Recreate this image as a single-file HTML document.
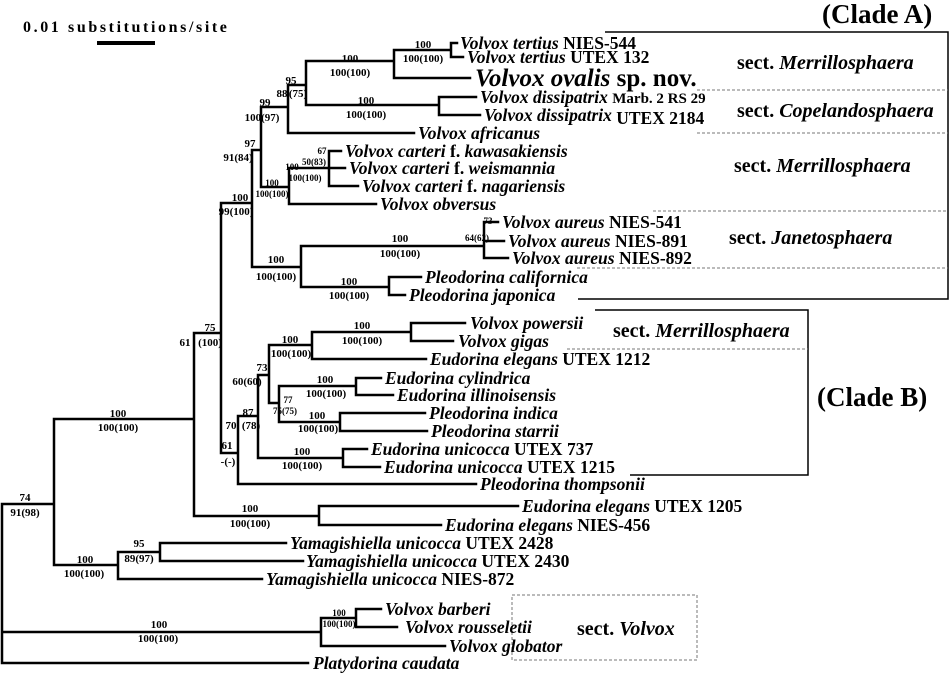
<!DOCTYPE html>
<html><head><meta charset="utf-8"><style>
html,body{margin:0;padding:0;background:#fff;}
svg{display:block;}
.t{font-family:"Liberation Serif",serif;font-weight:bold;font-style:italic;font-size:17.5px;}
.u{font-style:normal;}
.s{font-family:"Liberation Serif",serif;font-weight:bold;font-size:11px;text-anchor:middle;}
.ss{font-family:"Liberation Serif",serif;font-weight:bold;font-size:9px;text-anchor:middle;}
.sec{font-family:"Liberation Serif",serif;font-weight:bold;font-size:20px;}
.cl{font-family:"Liberation Serif",serif;font-weight:bold;font-size:27px;}
</style></head><body>
<svg width="950" height="674" viewBox="0 0 950 674" xmlns="http://www.w3.org/2000/svg">
<g fill="none" stroke="#000" stroke-width="2.5" stroke-linecap="square">
<path d="M2,504V663M2,504H54M54,419V565M54,419H194M194,333V516M194,333H221M221,203V453M221,203H252M252,150V267
M252,150H261M261,107V187M261,107H288M288,85V133M288,85H306M306,61V105M306,61H394M394,50V78M394,50H451M451,43V57M451,43H457M451,57H463M394,78H470
M306,105H439M439,97V115M439,97H476M439,115H480M288,133H414
M261,187H289M289,168V204M289,168H329M329,151V186M329,151H341M329,168H345M329,186H358M289,204H376
M252,267H301M301,246V287M301,246H484M484,222V258M484,222H498M484,241H504M484,258H508M301,287H389M389,277V295M389,277H421M389,295H405
M221,453H238M238,416V484M238,416H258M258,375V458M258,375H269M269,345V403M269,345H312M312,332V359M312,332H411M411,323V341M411,323H465M411,341H453M312,359H426
M269,403H279M279,386V422M279,386H356M356,378V395M356,378H381M356,395H393M279,422H340M340,413V431M340,413H425M340,431H427
M258,458H343M343,449V467M343,449H367M343,467H380M238,484H476
M194,516H319M319,506V525M319,506H518M319,525H441
M54,565H118M118,552V579M118,552H160M160,543V561M160,543H286M160,561H303M118,579H262
M2,632H321M321,618V646M321,618H356M356,609V627M356,609H381M356,627H397M321,646H445M2,663H308"/>
</g>
<!-- scale -->
<text x="23" y="32" font-family="Liberation Serif,serif" font-weight="bold" font-size="16" letter-spacing="2.6">0.01 substitutions/site</text>
<rect x="97" y="41" width="58" height="4" fill="#000"/>
<!-- boxes -->
<g fill="none" stroke="#000" stroke-width="1.5">
<path d="M605,32H948V299H578"/>
<path d="M595,310H808V475H630"/>
</g>
<g fill="none" stroke="#777" stroke-width="1" stroke-dasharray="3,2">
<path d="M697,90H948M697,133H948M653,211H948M577,268H948M567,349H808"/>
<path d="M512,595H697V660H512Z"/>
</g>
<!-- taxa -->
<g class="t">
<text x="460" y="49">Volvox tertius <tspan class="u">NIES-544</tspan></text>
<text x="467" y="63">Volvox tertius <tspan class="u">UTEX 132</tspan></text>
<text x="475" y="86" font-size="25">Volvox ovalis <tspan class="u">sp. nov.</tspan></text>
<text x="480" y="103">Volvox dissipatrix <tspan class="u" font-size="15">Marb. 2 RS 29</tspan></text>
<text x="484" y="121">Volvox dissipatrix <tspan class="u" dy="3">UTEX 2184</tspan></text>
<text x="418" y="139">Volvox africanus</text>
<text x="345" y="157">Volvox carteri <tspan class="u">f.</tspan> kawasakiensis</text>
<text x="349" y="174">Volvox carteri <tspan class="u">f.</tspan> weismannia</text>
<text x="362" y="192">Volvox carteri <tspan class="u">f.</tspan> nagariensis</text>
<text x="380" y="210">Volvox obversus</text>
<text x="502" y="228">Volvox aureus <tspan class="u">NIES-541</tspan></text>
<text x="508" y="247">Volvox aureus <tspan class="u">NIES-891</tspan></text>
<text x="512" y="264">Volvox aureus <tspan class="u">NIES-892</tspan></text>
<text x="425" y="283">Pleodorina californica</text>
<text x="409" y="301">Pleodorina japonica</text>
<text x="470" y="329">Volvox powersii</text>
<text x="458" y="347">Volvox gigas</text>
<text x="430" y="365">Eudorina elegans <tspan class="u">UTEX 1212</tspan></text>
<text x="385" y="384">Eudorina cylindrica</text>
<text x="397" y="401">Eudorina illinoisensis</text>
<text x="429" y="419">Pleodorina indica</text>
<text x="431" y="437">Pleodorina starrii</text>
<text x="371" y="455">Eudorina unicocca <tspan class="u">UTEX 737</tspan></text>
<text x="384" y="473">Eudorina unicocca <tspan class="u">UTEX 1215</tspan></text>
<text x="480" y="490">Pleodorina thompsonii</text>
<text x="522" y="512">Eudorina elegans <tspan class="u">UTEX 1205</tspan></text>
<text x="445" y="531">Eudorina elegans <tspan class="u">NIES-456</tspan></text>
<text x="290" y="549">Yamagishiella unicocca <tspan class="u">UTEX 2428</tspan></text>
<text x="306" y="567">Yamagishiella unicocca <tspan class="u">UTEX 2430</tspan></text>
<text x="266" y="585">Yamagishiella unicocca <tspan class="u">NIES-872</tspan></text>
<text x="385" y="615">Volvox barberi</text>
<text x="405" y="633">Volvox rousseletii</text>
<text x="449" y="652">Volvox globator</text>
<text x="313" y="669">Platydorina caudata</text>
</g>
<!-- sections -->
<g class="sec">
<text x="737" y="69">sect. <tspan font-style="italic">Merrillosphaera</tspan></text>
<text x="737" y="117">sect. <tspan font-style="italic">Copelandosphaera</tspan></text>
<text x="734" y="172">sect. <tspan font-style="italic">Merrillosphaera</tspan></text>
<text x="729" y="244">sect. <tspan font-style="italic">Janetosphaera</tspan></text>
<text x="613" y="337">sect. <tspan font-style="italic">Merrillosphaera</tspan></text>
<text x="577" y="635">sect. <tspan font-style="italic">Volvox</tspan></text>
</g>
<text class="cl" x="822" y="23">(Clade A)</text>
<text class="cl" x="817" y="406">(Clade B)</text>
<!-- supports -->
<g class="s">
<text x="423" y="48">100</text><text x="423" y="62">100(100)</text>
<text x="350" y="62">100</text><text x="350" y="76">100(100)</text>
<text x="291" y="84">95</text><text x="282" y="97">88</text><text x="298" y="97">(75)</text>
<text x="366" y="104">100</text><text x="366" y="118">100(100)</text>
<text x="265" y="106">99</text><text x="262" y="121">100(97)</text>
<text x="250" y="147">97</text><text x="238" y="161">91(84)</text>
<text x="400" y="242">100</text><text x="400" y="257">100(100)</text>
<text x="276" y="263">100</text><text x="276" y="280">100(100)</text>
<text x="349" y="285">100</text><text x="349" y="299">100(100)</text>
<text x="240" y="201">100</text><text x="236" y="215">99(100)</text>
<text x="210" y="331">75</text><text x="185" y="346">61</text><text x="210" y="346">(100)</text>
<text x="362" y="329">100</text><text x="362" y="344">100(100)</text>
<text x="290" y="343">100</text><text x="291" y="357">100(100)</text>
<text x="262" y="371">73</text><text x="247" y="385">60(60)</text>
<text x="325" y="383">100</text><text x="326" y="397">100(100)</text>
<text x="317" y="419">100</text><text x="318" y="432">100(100)</text>
<text x="248" y="416">87</text><text x="231" y="429">70</text><text x="251" y="429">(78)</text>
<text x="302" y="455">100</text><text x="302" y="469">100(100)</text>
<text x="227" y="449">61</text><text x="228" y="465">-(-)</text>
<text x="250" y="512">100</text><text x="250" y="527">100(100)</text>
<text x="118" y="417">100</text><text x="118" y="431">100(100)</text>
<text x="25" y="501">74</text><text x="25" y="516">91(98)</text>
<text x="85" y="563">100</text><text x="84" y="577">100(100)</text>
<text x="139" y="547">95</text><text x="139" y="562">89(97)</text>
<text x="159" y="628">100</text><text x="158" y="642">100(100)</text>
</g>
<g class="ss">
<text x="322" y="154">67</text><text x="314" y="165">50(83)</text>
<text x="292" y="170">100</text><text x="305" y="181">100(100)</text>
<text x="272" y="186">100</text><text x="272" y="197">100(100)</text>
<text x="488" y="224">73</text><text x="477" y="241">64(62)</text>
<text x="288" y="403">77</text><text x="285" y="414">75(75)</text>
<text x="339" y="616">100</text><text x="339" y="627">100(100)</text>
</g>
</svg>
</body></html>
